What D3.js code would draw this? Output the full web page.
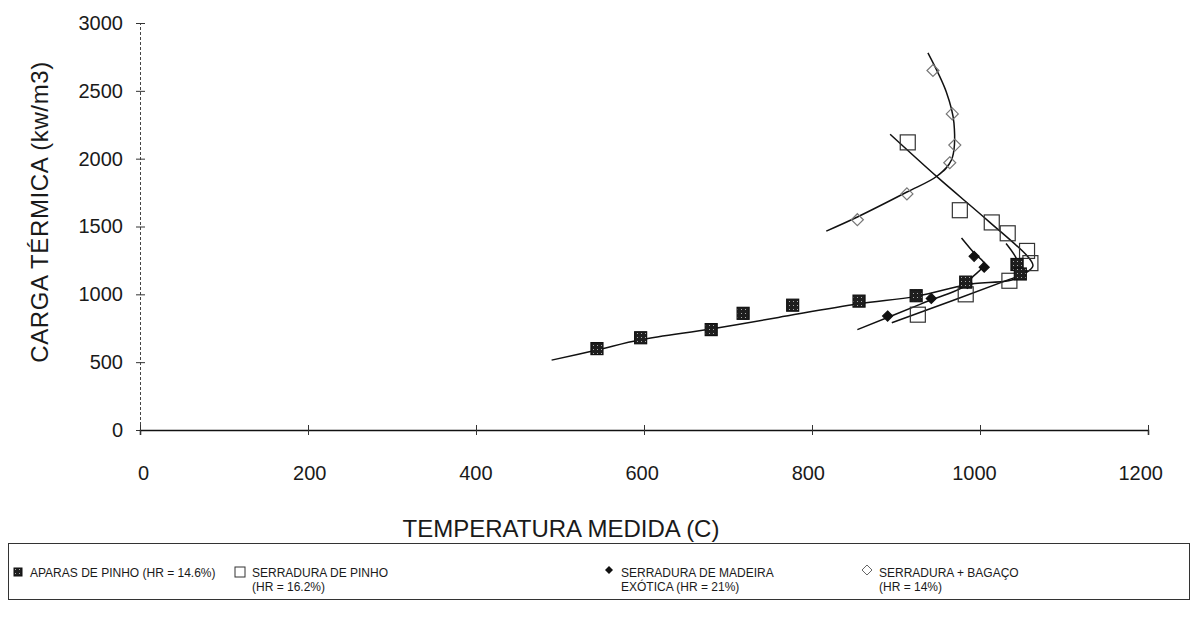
<!DOCTYPE html>
<meta charset="utf-8">
<script src="https://d3js.org/d3.v7.min.js"></script>
<style>
  body { margin: 0; background: #fff; }
  text { font-family: "Liberation Sans", Arial, sans-serif; fill: #1a1a1a; }
</style>
<div id="chart"></div>
<script>
// tick values
var xTicks = [0, 200, 400, 600, 800, 1000, 1200];
var yTicks = [0, 500, 1000, 1500, 2000, 2500, 3000];

// APARAS DE PINHO (HR = 14.6%)
var aparasT = [544, 596, 680, 718, 777, 856, 924, 983, 1044, 1048];
var aparasC = [600, 680, 740, 860, 920, 950, 990, 1090, 1220, 1150];
var aparasFitT = [490, 544, 596, 680, 760, 856, 924, 983, 1048, 1044, 1031];
var aparasFitC = [515, 590, 665, 745, 830, 930, 985, 1070, 1135, 1255, 1375];

// SERRADURA DE PINHO (HR = 16.2%)
var pinhoT = [914, 976, 1014, 1033, 1056, 1060, 1035, 983, 926];
var pinhoC = [2120, 1620, 1530, 1450, 1320, 1230, 1100, 1000, 850];
var pinhoFitT = [893, 950, 1010, 1058, 1063, 1055, 1035, 895];
var pinhoFitC = [2180, 1860, 1540, 1270, 1210, 1160, 1110, 790];

// SERRADURA DE MADEIRA EXOTICA (HR = 21%)
var exoT = [890, 942, 985, 1005, 993];
var exoC = [840, 970, 1080, 1200, 1280];
var exoFitT = [854, 930, 984, 990, 1005, 993, 978];
var exoFitC = [740, 930, 1068, 1120, 1223, 1304, 1415];

// SERRADURA + BAGACO (HR = 14%)
var bagT = [944, 967, 970, 964, 913, 854];
var bagC = [2650, 2330, 2100, 1970, 1740, 1550];
var bagFitT = [938, 960, 969, 966, 949, 913, 854, 817];
var bagFitC = [2780, 2490, 2262, 1990, 1872, 1754, 1570, 1466];

var svg = d3.select("#chart").append("svg")
    .attr("width", 1202)
    .attr("height", 621);

// speckled fill for the dark squares
var pat = svg.append("defs").append("pattern")
    .attr("id", "speck")
    .attr("patternUnits", "userSpaceOnUse")
    .attr("width", 4).attr("height", 4);
pat.append("rect").attr("width", 4).attr("height", 4).attr("fill", "#1e1e1e");
pat.append("rect").attr("x", 1).attr("y", 1).attr("width", 1).attr("height", 1).attr("fill", "#aaa");

var x = d3.scaleLinear().domain([0, 1200]).range([140, 1148]);
var y = d3.scaleLinear().domain([0, 3000]).range([430, 23]);

// y axis
var yAxis = svg.append("g")
    .attr("transform", "translate(140,0)")
    .call(d3.axisLeft(y).tickValues(yTicks).tickFormat(d3.format("d")).tickSize(4).tickPadding(13));
yAxis.select(".domain").attr("stroke", "#444").attr("stroke-dasharray", "3,2");
yAxis.selectAll(".tick line").attr("x1", -4).attr("x2", 5).attr("stroke", "#333");
yAxis.selectAll(".tick text").attr("font-size", 20).attr("font-family", "Liberation Sans, Arial");

// x axis
var xAxis = svg.append("g")
    .attr("transform", "translate(0,430)")
    .call(d3.axisBottom(x).tickValues(xTicks).tickFormat(d3.format("d")).tickSize(5).tickPadding(31));
xAxis.select(".domain").attr("stroke", "#111").attr("stroke-width", 1.5);
xAxis.selectAll(".tick line").attr("y1", -5).attr("y2", 5).attr("stroke", "#333");
xAxis.selectAll(".tick text")
    .attr("font-size", 20)
    .attr("font-family", "Liberation Sans, Arial")
    .attr("dx", function(d) { return 3 - d * 0.009; });

// axis titles
svg.append("text")
    .attr("transform", "translate(48,212) rotate(-90)")
    .attr("text-anchor", "middle")
    .attr("font-size", 24)
    .attr("letter-spacing", 0.6)
    .text("CARGA TÉRMICA (kw/m3)");
svg.append("text")
    .attr("x", 561).attr("y", 537)
    .attr("text-anchor", "middle")
    .attr("font-size", 24)
    .text("TEMPERATURA MEDIDA (C)");

// fitted curves
var line = d3.line()
    .x(function(d) { return x(d[0]); })
    .y(function(d) { return y(d[1]); })
    .curve(d3.curveCatmullRom.alpha(0.5));

function fit(ts, cs) {
  svg.append("path")
      .datum(ts.map(function(t, i) { return [t, cs[i]]; }))
      .attr("d", line)
      .attr("fill", "none")
      .attr("stroke", "#111")
      .attr("stroke-width", 1.5);
}
fit(aparasFitT, aparasFitC);
fit(pinhoFitT, pinhoFitC);
fit(exoFitT, exoFitC);
fit(bagFitT, bagFitC);

// markers
function squares(ts, cs, size, fill, stroke) {
  svg.append("g").selectAll("rect")
      .data(ts.map(function(t, i) { return [t, cs[i]]; }))
      .enter().append("rect")
        .attr("x", function(d) { return x(d[0]) - size / 2; })
        .attr("y", function(d) { return y(d[1]) - size / 2; })
        .attr("width", size).attr("height", size)
        .attr("fill", fill)
        .attr("stroke", stroke)
        .attr("stroke-width", 1.2);
}
function diamonds(ts, cs, size, fill, stroke) {
  svg.append("g").selectAll("path")
      .data(ts.map(function(t, i) { return [t, cs[i]]; }))
      .enter().append("path")
        .attr("transform", function(d) { return "translate(" + x(d[0]) + "," + y(d[1]) + ")"; })
        .attr("d", "M0," + (-size / 2) + "L" + (size / 2) + ",0L0," + (size / 2) + "L" + (-size / 2) + ",0Z")
        .attr("fill", fill)
        .attr("stroke", stroke)
        .attr("stroke-width", 1.2);
}
squares(pinhoT, pinhoC, 15, "none", "#333");
diamonds(bagT, bagC, 12, "none", "#777");
diamonds(exoT, exoC, 10, "#111", "#111");
squares(aparasT, aparasC, 12, "url(#speck)", "#111");

// legend
svg.append("rect")
    .attr("x", 8.5).attr("y", 543.5)
    .attr("width", 1181).attr("height", 56)
    .attr("fill", "none")
    .attr("stroke", "#333")
    .attr("stroke-width", 1);

var legend = [
  {x: 18, lines: ["APARAS DE PINHO (HR = 14.6%)"], mark: "dsq"},
  {x: 240, lines: ["SERRADURA DE PINHO", "(HR = 16.2%)"], mark: "osq"},
  {x: 609, lines: ["SERRADURA DE MADEIRA", "EXÓTICA (HR = 21%)"], mark: "ddi"},
  {x: 867, lines: ["SERRADURA + BAGAÇO", "(HR = 14%)"], mark: "odi"}
];
legend.forEach(function(l) {
  var g = svg.append("g").attr("transform", "translate(" + l.x + ",572)");
  if (l.mark == "dsq") g.append("rect").attr("x", -4).attr("y", -4).attr("width", 8).attr("height", 8).attr("fill", "url(#speck)").attr("stroke", "#111");
  if (l.mark == "osq") g.append("rect").attr("x", -5).attr("y", -5).attr("width", 10).attr("height", 10).attr("fill", "none").attr("stroke", "#333");
  if (l.mark == "ddi") g.append("path").attr("d", "M0,-4L4,0L0,4L-4,0Z").attr("fill", "#111").attr("transform", "translate(0,-2)");
  if (l.mark == "odi") g.append("path").attr("d", "M0,-5L5,0L0,5L-5,0Z").attr("fill", "none").attr("stroke", "#666").attr("transform", "translate(0,-2)");
  l.lines.forEach(function(s, i) {
    g.append("text")
        .attr("x", 12).attr("y", 5 + i * 14)
        .attr("font-size", 12)
        .attr("fill", "#222")
        .text(s);
  });
});
</script>
